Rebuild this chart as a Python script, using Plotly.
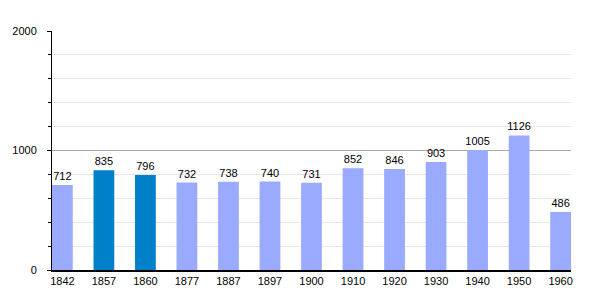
import plotly.graph_objects as go

years = ["1842", "1857", "1860", "1877", "1887", "1897", "1900", "1910", "1920", "1930", "1940", "1950", "1960"]
population = [712, 835, 796, 732, 738, 740, 731, 852, 846, 903, 1005, 1126, 486]
highlight = [False, True, True, False, False, False, False, False, False, False, False, False, False]

light = "#99aaff"
dark = "#0080c8"
colors = [dark if h else light for h in highlight]
xs = list(range(len(years)))

fig = go.Figure(go.Bar(
    x=xs, y=population, marker=dict(color=colors, line=dict(width=0)),
    width=0.5, text=[str(v) for v in population], textposition="outside",
    textfont=dict(family="Liberation Sans, Arial, sans-serif", size=11, color="#000"),
    cliponaxis=False, constraintext="none",
))

fig.update_layout(
    width=600, height=300, margin=dict(l=50, r=29, t=31, b=30),
    plot_bgcolor="white", paper_bgcolor="white", showlegend=False,
    font=dict(family="Liberation Sans, Arial, sans-serif", size=11, color="#000"),
    bargap=0.5,
)
fig.update_xaxes(
    range=[-0.25, 12.25], tickvals=xs, ticktext=years, showgrid=False,
    showline=True, linecolor="#000", linewidth=1.5, ticks="", zeroline=False,
    tickfont=dict(size=11),
)
fig.update_yaxes(
    range=[0, 2000], tickvals=[0, 1000, 2000], showgrid=True, gridcolor="#aaaaaa", gridwidth=1,
    showline=True, linecolor="#000", linewidth=1, ticks="outside", ticklen=4, tickcolor="#000",
    ticklabelstandoff=8, zeroline=False, tickfont=dict(size=11),
    minor=dict(dtick=200, showgrid=True, gridcolor="#e6e6e6", ticks="outside", ticklen=3, tickcolor="#000"),
)

fig.write_html("out.html")
